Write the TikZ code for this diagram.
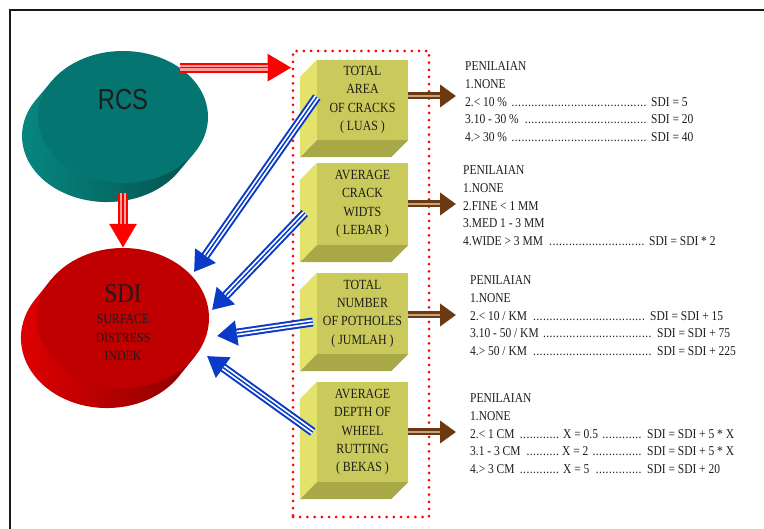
\documentclass[tikz,border=0pt]{standalone}
\usepackage{fontspec}
\usepackage{tikz}
\usetikzlibrary{arrows.meta,shapes.geometric}
\newfontfamily\narrowserif[FakeStretch=0.85]{Liberation Serif}
\newfontfamily\narrowsans[FakeStretch=0.82]{Liberation Sans}
\definecolor{cteal}{HTML}{047570}
\definecolor{ctealside}{HTML}{078A84}
\definecolor{ctealdark}{HTML}{03524E}
\definecolor{csdi}{HTML}{C00000}
\definecolor{csdiside}{HTML}{E40000}
\definecolor{csdidark}{HTML}{8A0000}
\definecolor{cred}{HTML}{FF0000}
\definecolor{cpink}{HTML}{FF9C9C}
\definecolor{cblue}{HTML}{0A3BC8}
\definecolor{cbrown}{HTML}{6B3A12}
\definecolor{ctan}{HTML}{C9A27E}
\definecolor{cfront}{HTML}{CACA5C}
\definecolor{cleftface}{HTML}{E3E36C}
\definecolor{cbottom}{HTML}{A8A846}
\definecolor{ctext}{HTML}{1C1C1C}
\newcommand\leaddots{\leaders\hbox to 3.3pt{\hss.\hss}\hfill}
\newcommand\dotrow[2]{\makebox[#1][l]{#2\ \leaddots\ }}

\begin{document}
\begin{tikzpicture}[x=1pt,y=-1pt,every node/.style={inner sep=0pt,text=ctext},
  cubefront/.style={fill=cfront,minimum width=91pt,align=center,font=\narrowserif\fontsize{14}{18.3}\selectfont},
  rating/.style={anchor=north west,align=left,font=\narrowserif\fontsize{13.5}{17.7}\selectfont},
  redarrow/.style={draw=cred,line width=10pt,-{Triangle[length=24pt,width=26pt]},
    postaction={draw=cpink,line width=6pt,shorten >=24pt,-},postaction={draw=cred,line width=1.5pt,shorten >=24pt,-}},
  bluearrow/.style={draw=cblue,line width=9pt,-{Triangle[length=20pt,width=24pt]},
    postaction={draw=white,line width=5pt,shorten >=20pt,-},postaction={draw=cblue,line width=1.5pt,shorten >=20pt,-}},
  brownarrow/.style={draw=cbrown,line width=7pt,-{Triangle[length=16pt,width=22pt]},
    postaction={draw=ctan,line width=2.5pt,shorten >=16pt,-}}]
  \useasboundingbox (0,0) rectangle (764,529);
  \draw[line width=2pt,black!90] (10,529) -- (10,10) -- (764,10);
  % discs
  \shade[left color=ctealside,right color=ctealdark] (194.1,153.1) -- (51.9,80.9) -- ++(-16,19)
    arc[start angle=146.8,end angle=326.8,x radius=85pt,y radius=66pt] -- cycle;
  \node[ellipse,fill=cteal,minimum width=170pt,minimum height=132pt] (rcs) at (123,117) {};
  \node[font=\narrowsans\fontsize{29}{30}\selectfont] (rcsname) at (123,100) {RCS};
  \shade[left color=csdiside,right color=csdidark] (195.1,356.2) -- (50.9,279.8) -- ++(-16,20)
    arc[start angle=146.9,end angle=326.9,x radius=86pt,y radius=70pt] -- cycle;
  \node[ellipse,fill=csdi,minimum width=172pt,minimum height=140pt] (sdi) at (123,318) {};
  \node[font=\narrowserif\fontsize{27}{30}\selectfont] (sdiname) at (123,294) {SDI};
  \node[align=center,font=\narrowserif\fontsize{14}{18.5}\selectfont] (sdisub) at (123,337.5) {SURFACE\\DISTRESS\\INDEK};
  % group of cubes
  \node[draw=cred,line width=3pt,dash pattern=on 0pt off 7.2pt,line cap=round,minimum width=136pt,minimum height=466pt] (grp) at (361,284) {};
  \draw[redarrow] (rcs.41) -- (rcs.41 -| grp.west);
  \draw[redarrow] ([yshift=-10pt]rcs.south) -- (sdi.north);
  \foreach \n/\cy/\h/\t in {crk/100/80/{TOTAL\\AREA\\OF CRACKS\\( LUAS )},wid/204/82/{AVERAGE\\CRACK\\WIDTS\\( LEBAR )},
      pot/313.5/81/{TOTAL\\NUMBER\\OF POTHOLES\\( JUMLAH )},rut/432/100/{AVERAGE\\DEPTH OF\\WHEEL\\RUTTING\\( BEKAS )}}{
    \node[cubefront,minimum height=\h pt] (\n) at (362.5,\cy) {\t};
    \fill[cleftface] (\n.north west) -- (\n.south west) -- ++(-17,17) -- ++(0,-\h) -- cycle;
    \fill[cbottom] (\n.south west) -- (\n.south east) -- ++(-17,17) -- ++(-91,0) -- cycle;
  }
  % ratings
  \node[rating] (luas) at (465,61.5) {PENILAIAN\\1.NONE\\\dotrow{186pt}{2.< 10 \%}SDI = 5\\
    \dotrow{186pt}{3.10 - 30 \%}SDI = 20\\\dotrow{186pt}{4.> 30 \%}SDI = 40};
  \node[rating] (lebar) at (463,165.5) {PENILAIAN\\1.NONE\\2.FINE < 1 MM\\3.MED 1 - 3 MM\\
    \dotrow{186pt}{4.WIDE > 3 MM}SDI = SDI * 2};
  \node[rating] (jumlah) at (470,275.5) {PENILAIAN\\1.NONE\\\dotrow{180pt}{2.< 10 / KM}SDI = SDI + 15\\
    \dotrow{187pt}{3.10 - 50 / KM}SDI = SDI + 75\\\dotrow{187pt}{4.> 50 / KM}SDI = SDI + 225};
  \node[rating] (bekas) at (470,393.5) {PENILAIAN\\1.NONE\\
    \dotrow{177pt}{\dotrow{93pt}{2.< 1 CM}X = 0.5}SDI = SDI + 5 * X\\
    \dotrow{177pt}{\dotrow{92pt}{3.1 - 3 CM}X = 2}SDI = SDI + 5 * X\\
    \dotrow{177pt}{\dotrow{93pt}{4.> 3 CM}X = 5}SDI = SDI + 20};
  \coordinate (tipcol) at (456,0);
  \draw[brownarrow] ([yshift=4pt]crk.east) -- ([yshift=4pt]crk.east -| tipcol);
  \draw[brownarrow] (wid.east) -- (wid.east -| tipcol);
  \draw[brownarrow] ([yshift=-1.5pt]pot.east) -- ([yshift=-1.5pt]pot.east -| tipcol);
  \draw[brownarrow] (rut.east) -- (rut.east -| tipcol);
  % into SDI
  \coordinate (hit1) at (194,272);
  \coordinate (hit2) at (212,310);
  \coordinate (hit3) at (217,336);
  \coordinate (hit4) at (207,356);
  \draw[bluearrow] ([yshift=3pt]crk.west) -- (hit1);
  \draw[bluearrow] ([xshift=-12pt,yshift=-9pt]wid.west) -- (hit2);
  \draw[bluearrow] ([xshift=-4pt,yshift=-8.5pt]pot.west) -- (hit3);
  \draw[bluearrow] ([xshift=-4pt]rut.west) -- (hit4);
\end{tikzpicture}
\end{document}
